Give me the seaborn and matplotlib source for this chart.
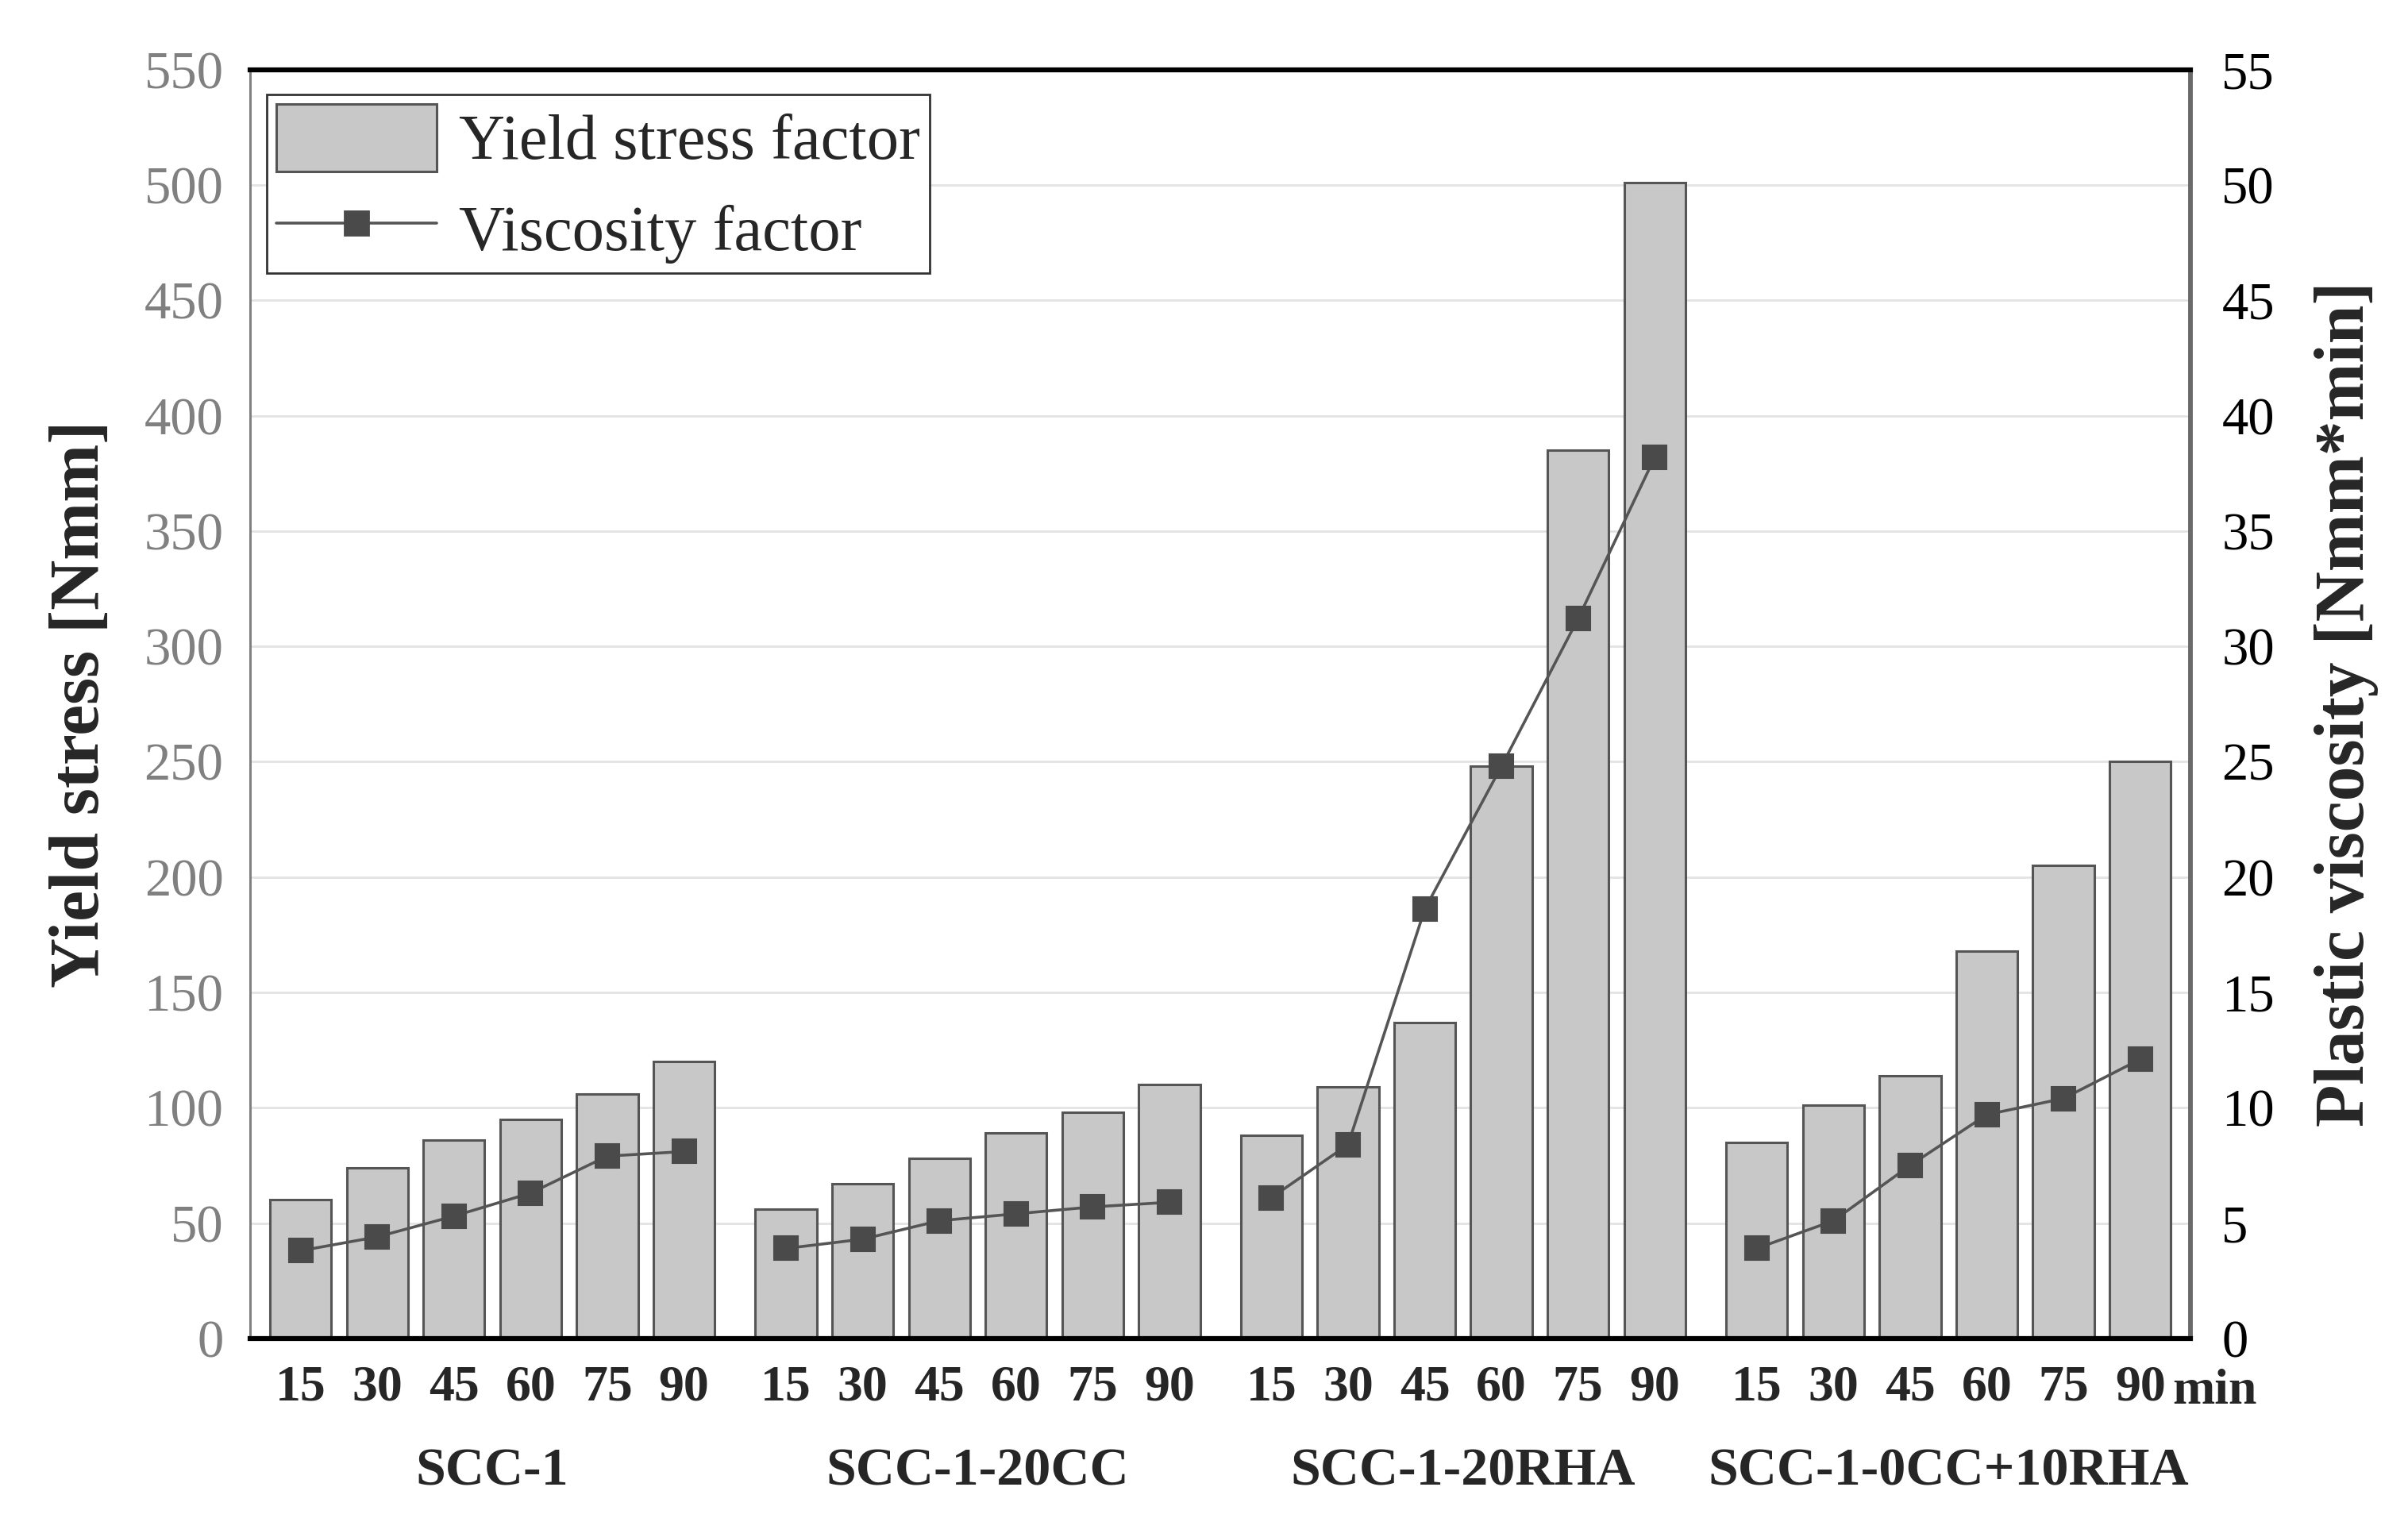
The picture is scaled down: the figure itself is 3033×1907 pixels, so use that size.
import numpy as np
import pandas as pd
import seaborn as sns
import matplotlib.pyplot as plt
from matplotlib.patches import Patch
from matplotlib.lines import Line2D
import matplotlib.transforms as mtransforms

# mixes and resting times
mixes = ['SCC-1', 'SCC-1-20CC', 'SCC-1-20RHA', 'SCC-1-0CC+10RHA']
times = [15, 30, 45, 60, 75, 90]

# yield stress factor [Nmm]
yield_scc1 = [60, 74, 86, 95, 106, 120]
yield_20cc = [56, 67, 78, 89, 98, 110]
yield_20rha = [88, 109, 137, 248, 385, 501]
yield_10rha = [85, 101, 114, 168, 205, 250]

# viscosity factor [Nmm*min]
visc_scc1 = [3.8, 4.4, 5.3, 6.3, 7.9, 8.1]
visc_20cc = [3.9, 4.3, 5.1, 5.4, 5.7, 5.9]
visc_20rha = [6.1, 8.4, 18.6, 24.8, 31.2, 38.2]
visc_10rha = [3.9, 5.1, 7.5, 9.7, 10.4, 12.1]

yields = [yield_scc1, yield_20cc, yield_20rha, yield_10rha]
viscs = [visc_scc1, visc_20cc, visc_20rha, visc_10rha]

group_step = 6.33
rows = []
for g, mix in enumerate(mixes):
    for i, t in enumerate(times):
        rows.append({'mix': mix, 'time': t, 'pos': g * group_step + i,
                     'yield': yields[g][i], 'visc': viscs[g][i]})
df = pd.DataFrame(rows)

sns.set_theme(style='white')
plt.rcParams['font.family'] = ['Liberation Serif', 'DejaVu Serif']

fig = plt.figure(figsize=(15.165, 9.535), dpi=200)
ax = fig.add_axes([0.1038, 0.116, 0.806, 0.838])

bar_color = '#c8c8c8'
edge_color = '#555555'
line_color = '#555555'

ax.yaxis.grid(True, color='#e3e3e3', linewidth=1.0)
ax.set_axisbelow(True)
sns.barplot(data=df, x='pos', y='yield', native_scale=True, color=bar_color,
            edgecolor=edge_color, linewidth=1.1, width=0.8, errorbar=None,
            saturation=1, ax=ax)

ax.set_xlim(-0.66, 24.65)
ax.set_ylim(0, 550)
ax.set_yticks(np.arange(0, 551, 50))
ax.tick_params(axis='y', labelsize=24, labelcolor='#808080', length=0, pad=12)
ax.set_xticks(df['pos'])
ax.set_xticklabels([str(t) for t in df['time']], fontsize=23, fontweight='bold')
ax.tick_params(axis='x', length=0, pad=12)
ax.set_xlabel('')
ax.set_ylabel('Yield stress [Nmm]', fontsize=31.5, fontweight='bold', labelpad=14)

ax2 = ax.twinx()
sns.lineplot(data=df, x='pos', y='visc', units='mix', estimator=None,
             color=line_color, marker='s', markersize=11, markeredgecolor='#4a4a4a',
             markerfacecolor='#4a4a4a', linewidth=1.3, legend=False, ax=ax2)
ax2.set_ylim(0, 55)
ax2.set_yticks(np.arange(0, 56, 5))
ax2.tick_params(axis='y', labelsize=24, labelcolor='black', length=0, pad=14)
ax2.set_ylabel('Plastic viscosity [Nmm*min]', fontsize=31.5, fontweight='bold', labelpad=18)
ax2.set_xlim(ax.get_xlim())

for a in (ax, ax2):
    a.spines['top'].set_color('black')
    a.spines['top'].set_linewidth(2.2)
    a.spines['bottom'].set_color('black')
    a.spines['bottom'].set_linewidth(2.2)
    a.spines['left'].set_color('#808080')
    a.spines['left'].set_linewidth(1.0)
    a.spines['right'].set_color('#6a6a6a')
    a.spines['right'].set_linewidth(2.0)

# "min" unit label and group names under the ticks
trans = mtransforms.blended_transform_factory(ax.transData, ax.transAxes)
ax.text(df['pos'].iloc[-1] + 0.42, -0.042, 'min', transform=trans, fontsize=23,
        fontweight='bold', ha='left', va='center')
for g, mix in enumerate(mixes):
    ax.text(g * group_step + 2.5, -0.105, mix, transform=trans, fontsize=24.5,
            fontweight='bold', ha='center', va='center')

handles = [Patch(facecolor=bar_color, edgecolor=edge_color, linewidth=1.1),
           Line2D([], [], color=line_color, marker='s', markersize=11,
                  markerfacecolor='#4a4a4a', markeredgecolor='#4a4a4a', linewidth=1.3)]
leg = ax2.legend(handles, ['Yield stress factor', 'Viscosity factor'],
                 loc='upper left', bbox_to_anchor=(0.0087, 0.9806), borderaxespad=0,
                 fontsize=29, fancybox=False, framealpha=1, edgecolor='#333333',
                 handlelength=2.5, handleheight=1.25, handletextpad=0.35,
                 borderpad=0.15, labelspacing=0.35)
leg.get_frame().set_linewidth(1.0)

fig.savefig('out.png', dpi=200)
